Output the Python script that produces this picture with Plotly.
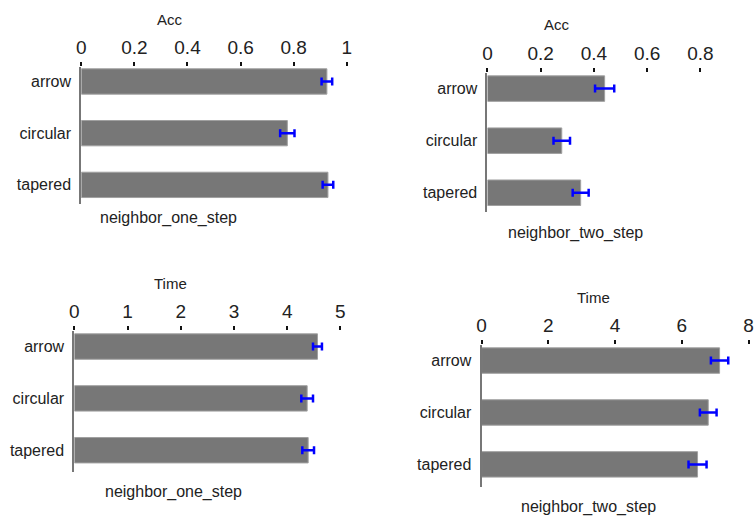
import plotly.graph_objects as go

categories = ["arrow", "circular", "tapered"]

acc_one_step = [0.925, 0.776, 0.929]
acc_one_step_err = [0.02, 0.027, 0.02]
acc_two_step = [0.44, 0.279, 0.35]
acc_two_step_err = [0.036, 0.031, 0.03]
time_one_step = [4.57, 4.376, 4.395]
time_one_step_err = [0.084, 0.11, 0.11]
time_two_step = [7.13, 6.79, 6.47]
time_two_step_err = [0.26, 0.25, 0.27]

metric_titles = ["Acc", "Acc", "Time", "Time"]
group_titles = ["neighbor_one_step", "neighbor_two_step", "neighbor_one_step", "neighbor_two_step"]
tick_values = [[0, 0.2, 0.4, 0.6, 0.8, 1], [0, 0.2, 0.4, 0.6, 0.8, 1],
               [0, 1, 2, 3, 4, 5], [0, 2, 4, 6, 8]]
tick_labels = [["0", "0.2", "0.4", "0.6", "0.8", "1"], ["0", "0.2", "0.4", "0.6", "0.8", "1"],
               ["0", "1", "2", "3", "4", "5"], ["0", "2", "4", "6", "8"]]

values = [acc_one_step, acc_two_step, time_one_step, time_two_step]
errors = [acc_one_step_err, acc_two_step_err, time_one_step_err, time_two_step_err]

W, H = 754, 520
# layout geometry in pixels: (x0, px_per_unit, x_end, y_top, y_bottom, y_range, title_xy, sub_xy)
geom = [
    (77, 268.0, 355, 67, 204, [2.37, -0.28], (167, 20), (165, 218)),
    (487, 268.75, 754, 73, 212, [2.37, -0.30], (557, 24), (576, 233)),
    (70, 53.7, 350, 331, 472, [2.42, -0.30], (167, 283), (170, 492)),
    (481, 33.7, 754, 345, 486.7, [2.43, -0.30], (594, 297), (589, 507)),
]

FONT = "Liberation Sans, Arial, sans-serif"
fig = go.Figure()
annotations = []
layout_axes = {}
for i in range(4):
    x0, scale, xend, ytop, ybot, yrng, tpos, spos = geom[i]
    n = "" if i == 0 else str(i + 1)
    fig.add_trace(go.Bar(
        x=values[i], y=categories, orientation="h",
        xaxis="x" + n, yaxis="y" + n, width=0.49,
        marker=dict(color="#777777", line=dict(color="#a0a0a0", width=1)),
        error_x=dict(type="data", array=errors[i], color="#0000ff", thickness=2.5, width=4),
        showlegend=False,
    ))
    layout_axes["xaxis" + n] = dict(
        domain=[x0 / W, xend / W], range=[0, (xend - x0) / scale],
        anchor="y" + n, side="top", showgrid=False, zeroline=False, showline=False,
        ticks="outside", ticklen=4, tickwidth=2, tickcolor="#111",
        tickvals=tick_values[i], ticktext=tick_labels[i], ticklabeloverflow="allow",
        tickfont=dict(family=FONT, size=19, color="#222"),
    )
    layout_axes["yaxis" + n] = dict(
        domain=[1 - ybot / H, 1 - ytop / H], range=yrng,
        anchor="x" + n, type="category", categoryorder="array", categoryarray=categories,
        showgrid=False, zeroline=False, showline=True, linecolor="#777", linewidth=2,
        ticks="", ticklabelstandoff=5, tickfont=dict(family=FONT, size=16, color="#222"),
    )
    annotations.append(dict(text=metric_titles[i], x=tpos[0] / W, y=1 - tpos[1] / H,
                            xref="paper", yref="paper", showarrow=False,
                            xanchor="center", yanchor="middle",
                            font=dict(family=FONT, size=15, color="#222")))
    annotations.append(dict(text=group_titles[i], x=spos[0] / W, y=1 - spos[1] / H,
                            xref="paper", yref="paper", showarrow=False,
                            xanchor="center", yanchor="middle",
                            font=dict(family=FONT, size=16, color="#222")))

fig.update_layout(
    width=W, height=H, margin=dict(l=0, r=0, t=0, b=0),
    paper_bgcolor="white", plot_bgcolor="white",
    annotations=annotations, bargap=0.5, **layout_axes,
)
fig.write_html("out.html")
